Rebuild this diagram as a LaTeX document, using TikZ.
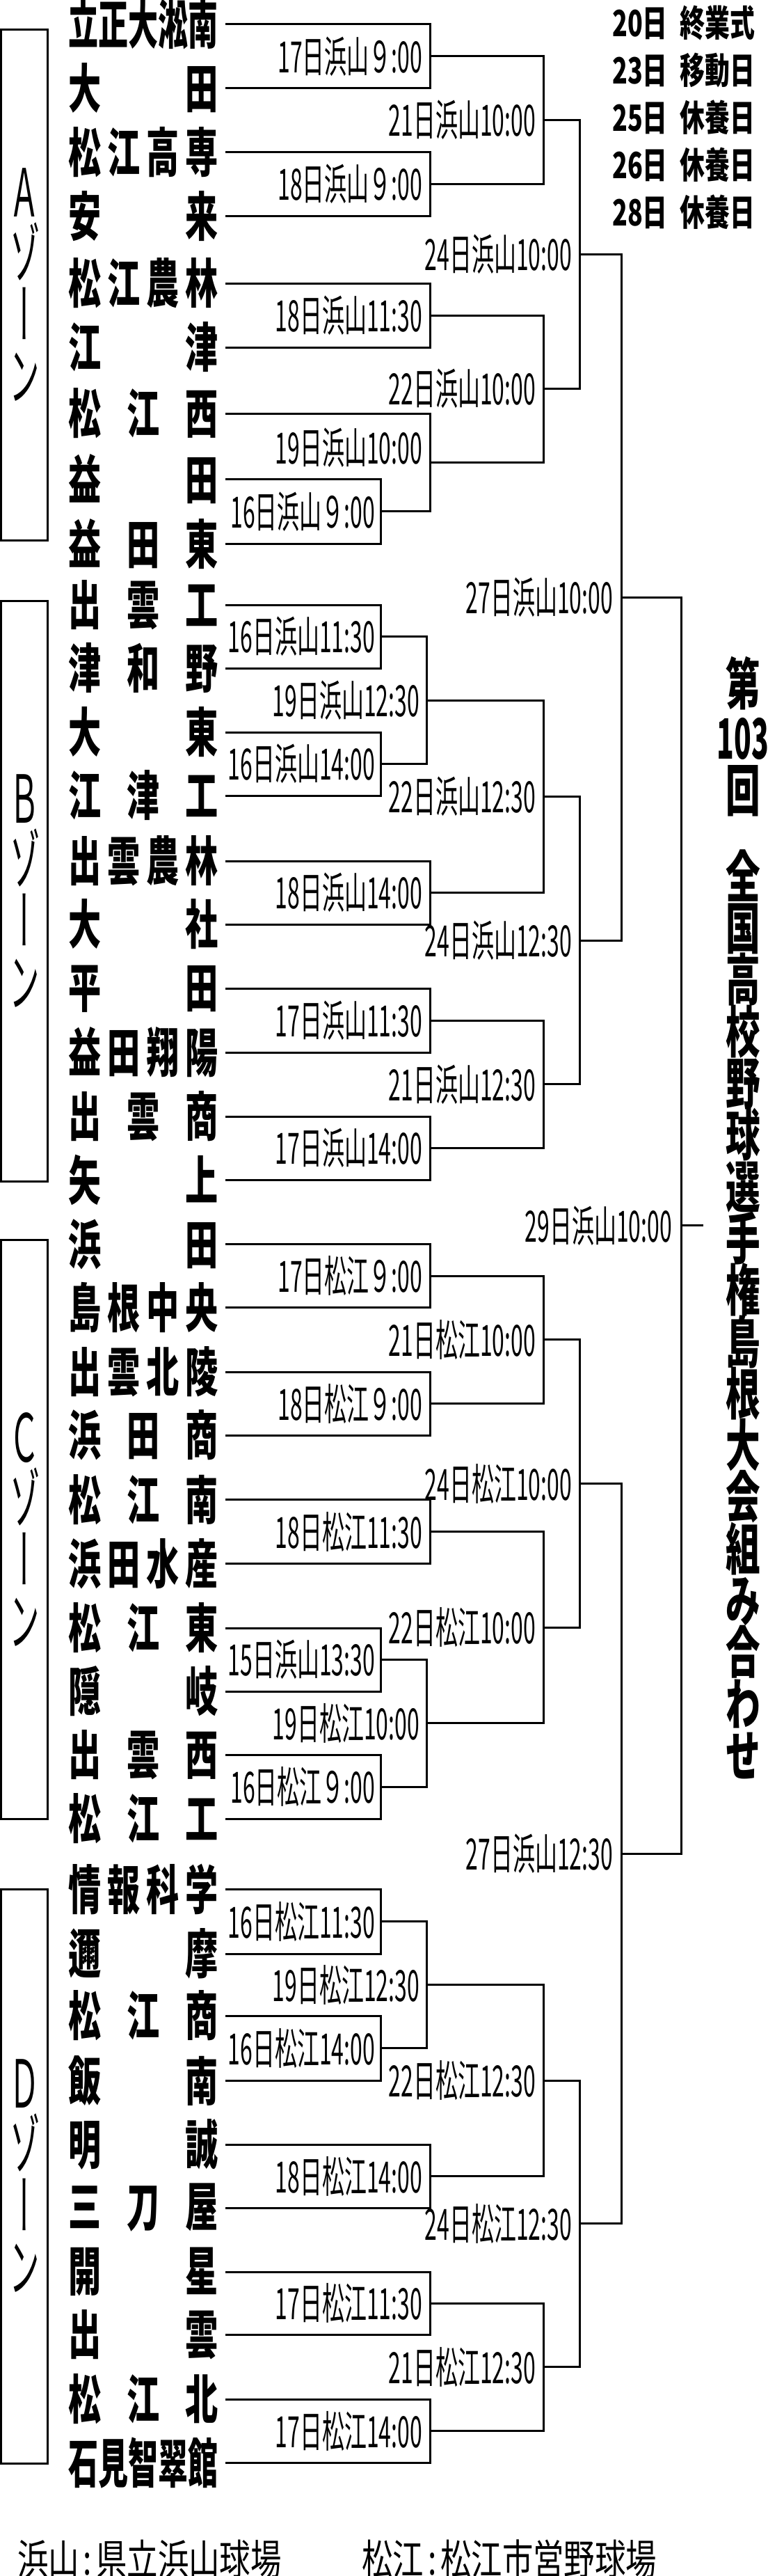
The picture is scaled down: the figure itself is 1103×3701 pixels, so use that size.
\documentclass[tikz,border=0pt]{standalone}
\usepackage{fontspec}
\usepackage{graphicx}
\newfontfamily\namefont{Noto Sans CJK JP}[FakeStretch=0.62]
\newfontfamily\datefont{Noto Sans CJK JP}[FakeStretch=0.515]
\newfontfamily\zonefont{Noto Sans CJK JP}[FakeStretch=0.46,RawFeature=+vert]
\newfontfamily\schedfont{Noto Sans CJK JP}[FakeStretch=0.69]
\newfontfamily\venuefont{Noto Sans CJK JP}[FakeStretch=0.74]
\newcommand{\tm}[1]{\makebox[226pt][l]{\makebox[215pt][s]{#1}}}
\newcommand{\tightlines}{\lineskiplimit=-500pt\relax}

\begin{document}
\begin{tikzpicture}[x=1pt, y=-1pt,
	teamname/.style={font={\namefont\bfseries\fontsize{76}{76}\selectfont}, inner sep=0, anchor=west},
	datelbl/.style={font={\datefont\fontsize{62}{62}\selectfont}, inner sep=0, anchor=east},
	zonebox/.style={draw, line width=3pt, minimum width=67pt, inner sep=0, align=center, font={\zonefont\fontsize{95}{88}\selectfont\tightlines}},
	bline/.style={line width=3pt},
	schedule/.style={font={\schedfont\bfseries\fontsize{52}{68}\selectfont}, inner sep=0, align=left, anchor=north west},
	headline/.style={font={\namefont\bfseries\fontsize{80}{74.3}\selectfont\tightlines}, inner sep=0, align=center, anchor=north},
	venue/.style={font={\venuefont\fontsize{60}{60}\selectfont}, inner sep=0, anchor=west}
	]
	\useasboundingbox (0,0) rectangle (1103,3701);

	\node[zonebox, minimum height=733pt] (zA) at (35,409.5) {Ａ\\ゾ\\ー\\ン};
	\node[zonebox, minimum height=834pt] (zB) at (35,1280) {Ｂ\\ゾ\\ー\\ン};
	\node[zonebox, minimum height=832pt] (zC) at (35,2197) {Ｃ\\ゾ\\ー\\ン};
	\node[zonebox, minimum height=825pt] (zD) at (35,3126.5) {Ｄ\\ゾ\\ー\\ン};

	\node[teamname] (t0) at (98,35) {\tm{\resizebox{215pt}{\height}{立正大淞南}}};
	\node[teamname] (t1) at (98,126.7) {\tm{大\hfil 田}};
	\node[teamname] (t2) at (98,218.3) {\tm{松\hfil 江\hfil 高\hfil 専}};
	\node[teamname] (t3) at (98,310.7) {\tm{安\hfil 来}};
	\node[teamname] (t4) at (98,407) {\tm{松\hfil 江\hfil 農\hfil 林}};
	\node[teamname] (t5) at (98,499) {\tm{江\hfil 津}};
	\node[teamname] (t6) at (98,594) {\tm{松\hfil 江\hfil 西}};
	\node[teamname] (t7) at (98,688) {\tm{益\hfil 田}};
	\node[teamname] (t8) at (98,781.6) {\tm{益\hfil 田\hfil 東}};

	\node[teamname] (t9) at (98,869) {\tm{出\hfil 雲\hfil 工}};
	\node[teamname] (t10) at (98,960) {\tm{津\hfil 和\hfil 野}};
	\node[teamname] (t11) at (98,1052) {\tm{大\hfil 東}};
	\node[teamname] (t12) at (98,1143) {\tm{江\hfil 津\hfil 工}};
	\node[teamname] (t13) at (98,1237) {\tm{出\hfil 雲\hfil 農\hfil 林}};
	\node[teamname] (t14) at (98,1328) {\tm{大\hfil 社}};
	\node[teamname] (t15) at (98,1420.7) {\tm{平\hfil 田}};
	\node[teamname] (t16) at (98,1512) {\tm{益\hfil 田\hfil 翔\hfil 陽}};
	\node[teamname] (t17) at (98,1604) {\tm{出\hfil 雲\hfil 商}};
	\node[teamname] (t18) at (98,1695) {\tm{矢\hfil 上}};

	\node[teamname] (t19) at (98,1787.4) {\tm{浜\hfil 田}};
	\node[teamname] (t20) at (98,1878.6) {\tm{島\hfil 根\hfil 中\hfil 央}};
	\node[teamname] (t21) at (98,1971) {\tm{出\hfil 雲\hfil 北\hfil 陵}};
	\node[teamname] (t22) at (98,2062) {\tm{浜\hfil 田\hfil 商}};
	\node[teamname] (t23) at (98,2154.7) {\tm{松\hfil 江\hfil 南}};
	\node[teamname] (t24) at (98,2246.6) {\tm{浜\hfil 田\hfil 水\hfil 産}};
	\node[teamname] (t25) at (98,2339) {\tm{松\hfil 江\hfil 東}};
	\node[teamname] (t26) at (98,2430) {\tm{隠\hfil 岐}};
	\node[teamname] (t27) at (98,2521) {\tm{出\hfil 雲\hfil 西}};
	\node[teamname] (t28) at (98,2613) {\tm{松\hfil 江\hfil 工}};

	\node[teamname] (t29) at (98,2714) {\tm{情\hfil 報\hfil 科\hfil 学}};
	\node[teamname] (t30) at (98,2807) {\tm{邇\hfil 摩}};
	\node[teamname] (t31) at (98,2896) {\tm{松\hfil 江\hfil 商}};
	\node[teamname] (t32) at (98,2989) {\tm{飯\hfil 南}};
	\node[teamname] (t33) at (98,3081) {\tm{明\hfil 誠}};
	\node[teamname] (t34) at (98,3172) {\tm{三\hfil 刀\hfil 屋}};
	\node[teamname] (t35) at (98,3264) {\tm{開\hfil 星}};
	\node[teamname] (t36) at (98,3354) {\tm{出\hfil 雲}};
	\node[teamname] (t37) at (98,3447) {\tm{松\hfil 江\hfil 北}};
	\node[teamname] (t38) at (98,3538) {\tm{\resizebox{215pt}{\height}{石見智翠館}}};

	\coordinate (a1) at (618,80.85);
	\coordinate (a2) at (618,264.5);
	\coordinate (a3) at (781,172.7);
	\coordinate (a4) at (618,453);
	\coordinate (a5) at (547,734.8);
	\coordinate (a6) at (618,664.4);
	\coordinate (a7) at (781,558.7);
	\coordinate (a8) at (833,365.7);

	\coordinate (b1) at (547,914.5);
	\coordinate (b2) at (547,1097.5);
	\coordinate (b3) at (613,1006);
	\coordinate (b4) at (618,1282.5);
	\coordinate (b5) at (781,1144.25);
	\coordinate (b6) at (618,1466.35);
	\coordinate (b7) at (618,1649.5);
	\coordinate (b8) at (781,1557.9);
	\coordinate (b9) at (833,1351.1);

	\coordinate (c1) at (618,1833);
	\coordinate (c2) at (618,2016.5);
	\coordinate (c3) at (781,1924.75);
	\coordinate (c4) at (618,2200.65);
	\coordinate (c5) at (547,2384.5);
	\coordinate (c6) at (547,2567);
	\coordinate (c7) at (613,2475.75);
	\coordinate (c8) at (781,2338.2);
	\coordinate (c9) at (833,2131.5);

	\coordinate (d1) at (547,2760.5);
	\coordinate (d2) at (547,2942.5);
	\coordinate (d3) at (613,2851.5);
	\coordinate (d4) at (618,3126.5);
	\coordinate (d5) at (781,2989);
	\coordinate (d6) at (618,3309);
	\coordinate (d7) at (618,3492.5);
	\coordinate (d8) at (781,3400.75);
	\coordinate (d9) at (833,3194.9);

	\coordinate (s1) at (893,858.4);
	\coordinate (s2) at (893,2663.2);
	\coordinate (fin) at (979,1760.8);
	\coordinate (champ) at (1011,1760.8);

	\draw[bline] (t0.east) -| (a1) |- (t1.east);
	\draw[bline] (t2.east) -| (a2) |- (t3.east);
	\draw[bline] (a1) -| (a3) |- (a2);
	\draw[bline] (t4.east) -| (a4) |- (t5.east);
	\draw[bline] (t7.east) -| (a5) |- (t8.east);
	\draw[bline] (t6.east) -| (a6) |- (a5);
	\draw[bline] (a4) -| (a7) |- (a6);
	\draw[bline] (a3) -| (a8) |- (a7);

	\draw[bline] (t9.east) -| (b1) |- (t10.east);
	\draw[bline] (t11.east) -| (b2) |- (t12.east);
	\draw[bline] (b1) -| (b3) |- (b2);
	\draw[bline] (t13.east) -| (b4) |- (t14.east);
	\draw[bline] (b3) -| (b5) |- (b4);
	\draw[bline] (t15.east) -| (b6) |- (t16.east);
	\draw[bline] (t17.east) -| (b7) |- (t18.east);
	\draw[bline] (b6) -| (b8) |- (b7);
	\draw[bline] (b5) -| (b9) |- (b8);

	\draw[bline] (t19.east) -| (c1) |- (t20.east);
	\draw[bline] (t21.east) -| (c2) |- (t22.east);
	\draw[bline] (c1) -| (c3) |- (c2);
	\draw[bline] (t23.east) -| (c4) |- (t24.east);
	\draw[bline] (t25.east) -| (c5) |- (t26.east);
	\draw[bline] (t27.east) -| (c6) |- (t28.east);
	\draw[bline] (c5) -| (c7) |- (c6);
	\draw[bline] (c4) -| (c8) |- (c7);
	\draw[bline] (c3) -| (c9) |- (c8);

	\draw[bline] (t29.east) -| (d1) |- (t30.east);
	\draw[bline] (t31.east) -| (d2) |- (t32.east);
	\draw[bline] (d1) -| (d3) |- (d2);
	\draw[bline] (t33.east) -| (d4) |- (t34.east);
	\draw[bline] (d3) -| (d5) |- (d4);
	\draw[bline] (t35.east) -| (d6) |- (t36.east);
	\draw[bline] (t37.east) -| (d7) |- (t38.east);
	\draw[bline] (d6) -| (d8) |- (d7);
	\draw[bline] (d5) -| (d9) |- (d8);

	\draw[bline] (a8) -| (s1) |- (b9);
	\draw[bline] (c9) -| (s2) |- (d9);
	\draw[bline] (s1) -| (fin) |- (s2);
	\draw[bline] (fin) -- (champ);

	\node[datelbl] (la1) at ([xshift=-11pt]a1) {17日浜山９:00};
	\node[datelbl] (la2) at ([xshift=-11pt]a2) {18日浜山９:00};
	\node[datelbl] (la3) at ([xshift=-11pt]a3) {21日浜山10:00};
	\node[datelbl] (la4) at ([xshift=-11pt]a4) {18日浜山11:30};
	\node[datelbl] (la5) at ([xshift=-8pt]a5) {16日浜山９:00};
	\node[datelbl] (la6) at ([xshift=-11pt,yshift=21pt]a6) {19日浜山10:00};
	\node[datelbl] (la7) at ([xshift=-11pt]a7) {22日浜山10:00};
	\node[datelbl] (la8) at ([xshift=-11pt]a8) {24日浜山10:00};

	\node[datelbl] (lb1) at ([xshift=-8pt]b1) {16日浜山11:30};
	\node[datelbl] (lb2) at ([xshift=-8pt]b2) {16日浜山14:00};
	\node[datelbl] (lb3) at ([xshift=-10pt]b3) {19日浜山12:30};
	\node[datelbl] (lb4) at ([xshift=-11pt]b4) {18日浜山14:00};
	\node[datelbl] (lb5) at ([xshift=-11pt]b5) {22日浜山12:30};
	\node[datelbl] (lb6) at ([xshift=-11pt]b6) {17日浜山11:30};
	\node[datelbl] (lb7) at ([xshift=-11pt]b7) {17日浜山14:00};
	\node[datelbl] (lb8) at ([xshift=-11pt]b8) {21日浜山12:30};
	\node[datelbl] (lb9) at ([xshift=-11pt]b9) {24日浜山12:30};

	\node[datelbl] (lc1) at ([xshift=-11pt]c1) {17日松江９:00};
	\node[datelbl] (lc2) at ([xshift=-11pt]c2) {18日松江９:00};
	\node[datelbl] (lc3) at ([xshift=-11pt]c3) {21日松江10:00};
	\node[datelbl] (lc4) at ([xshift=-11pt]c4) {18日松江11:30};
	\node[datelbl] (lc5) at ([xshift=-8pt]c5) {15日浜山13:30};
	\node[datelbl] (lc6) at ([xshift=-8pt]c6) {16日松江９:00};
	\node[datelbl] (lc7) at ([xshift=-10pt]c7) {19日松江10:00};
	\node[datelbl] (lc8) at ([xshift=-11pt]c8) {22日松江10:00};
	\node[datelbl] (lc9) at ([xshift=-11pt]c9) {24日松江10:00};

	\node[datelbl] (ld1) at ([xshift=-8pt]d1) {16日松江11:30};
	\node[datelbl] (ld2) at ([xshift=-8pt]d2) {16日松江14:00};
	\node[datelbl] (ld3) at ([xshift=-10pt]d3) {19日松江12:30};
	\node[datelbl] (ld4) at ([xshift=-11pt]d4) {18日松江14:00};
	\node[datelbl] (ld5) at ([xshift=-11pt]d5) {22日松江12:30};
	\node[datelbl] (ld6) at ([xshift=-11pt]d6) {17日松江11:30};
	\node[datelbl] (ld7) at ([xshift=-11pt]d7) {17日松江14:00};
	\node[datelbl] (ld8) at ([xshift=-11pt]d8) {21日松江12:30};
	\node[datelbl] (ld9) at ([xshift=-11pt]d9) {24日松江12:30};

	\node[datelbl] (ls1) at ([xshift=-12pt]s1) {27日浜山10:00};
	\node[datelbl] (ls2) at ([xshift=-12pt]s2) {27日浜山12:30};
	\node[datelbl] (lfin) at ([xshift=-13pt]fin) {29日浜山10:00};

	\node[schedule] (rest) at (880,8) {20日\hspace{18pt}終業式\\23日\hspace{18pt}移動日\\25日\hspace{18pt}休養日\\26日\hspace{18pt}休養日\\28日\hspace{18pt}休養日};

	\node[headline] (head) at (1068,943) {第\\[4pt]\scalebox{0.82}[1]{103}\\回\\[50pt]全\\国\\高\\校\\野\\球\\選\\手\\権\\島\\根\\大\\会\\組\\み\\合\\わ\\せ};

	\node[venue] (v1) at (25,3677) {浜山\kern6pt:\kern6pt 県立浜山球場};
	\node[venue] (v2) at (520,3677) {松江\kern6pt:\kern6pt 松江市営野球場};

\end{tikzpicture}
\end{document}
